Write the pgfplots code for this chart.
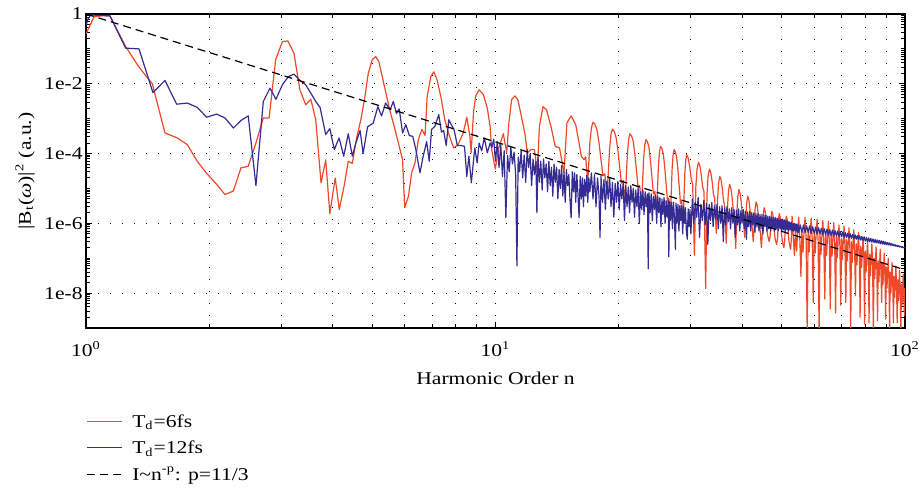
\documentclass[border=0pt]{standalone}
\usepackage{fontspec}
\setmainfont{Liberation Serif}[FakeStretch=1.2]
\usepackage{pgfplots}
\pgfplotsset{compat=1.18}
\definecolor{tdsix}{RGB}{239,72,42}
\definecolor{tdtwelve}{RGB}{52,44,146}
\newcommand{\lbl}{\fontsize{9}{11}\selectfont}
\begin{document}
\begin{tikzpicture}
\useasboundingbox (-43pt,-81pt) rectangle (417pt,164pt);
\begin{axis}[
  at={(0,0)}, anchor=south west,
  scale only axis, width=409.5pt, height=157pt,
  xmode=log, ymode=log,
  xmin=1, xmax=100, ymin=1e-9, ymax=1,
  xtick={1,10,100},
  xticklabels={10\textsuperscript{0},10\textsuperscript{1},10\textsuperscript{2}},
  minor xtick={2,3,4,5,6,7,8,9,20,30,40,50,60,70,80,90},
  ytick={1e-8,1e-6,1e-4,1e-2,1},
  yticklabels={1e-8,1e-6,1e-4,1e-2,1},
  minor ytick={1e-9,2e-9,3e-9,4e-9,5e-9,6e-9,7e-9,8e-9,9e-9,
    2e-8,3e-8,4e-8,5e-8,6e-8,7e-8,8e-8,9e-8,
    1e-7,2e-7,3e-7,4e-7,5e-7,6e-7,7e-7,8e-7,9e-7,
    2e-6,3e-6,4e-6,5e-6,6e-6,7e-6,8e-6,9e-6,
    1e-5,2e-5,3e-5,4e-5,5e-5,6e-5,7e-5,8e-5,9e-5,
    2e-4,3e-4,4e-4,5e-4,6e-4,7e-4,8e-4,9e-4,
    1e-3,2e-3,3e-3,4e-3,5e-3,6e-3,7e-3,8e-3,9e-3,
    2e-2,3e-2,4e-2,5e-2,6e-2,7e-2,8e-2,9e-2,
    1e-1,2e-1,3e-1,4e-1,5e-1,6e-1,7e-1,8e-1,9e-1},
  tick align=inside,
  major tick length=3pt, minor tick length=2pt,
  every tick/.style={black, line width=0.5pt},
  xmajorgrids, xminorgrids, ymajorgrids,
  grid style={black, line width=0.5pt, dash pattern=on 0.7pt off 5.3pt},
  axis line style={line width=0.6pt},
  tick label style={font=\lbl},
  xticklabel style={anchor=base, yshift=-14.5pt},
  yticklabel style={inner xsep=1.5pt},
  xlabel={Harmonic Order n},
  ylabel={|B\textsubscript{t}(\textit{ω})|\textsuperscript{2} (a.u.)},
  every axis x label/.style={at={(axis description cs:0.5,-0.1815)}, anchor=base, font=\lbl},
  every axis y label/.style={at={(axis description cs:-0.0672,0.5)}, rotate=90, anchor=base, font=\lbl},
  legend cell align=left,
  legend style={at={(axis description cs:0,0)}, anchor=north west, yshift=-40pt,
    draw=none, fill=none, inner sep=0pt, row sep=0pt,
    cells={anchor=base west},
    nodes={inner sep=0pt, text height=9.5pt, text depth=3.75pt, font=\lbl}},
  legend image code/.code={\draw[#1] (0pt,3pt) -- (17.35pt,3pt); \path (22.35pt,0pt);},
  every axis plot/.append style={line join=round},
]
% T_d = 6 fs
\addplot[tdsix, line width=0.6pt] coordinates {
(1.0,0.27)(1.046,0.83)(1.1,0.9)(1.144,0.88)(1.25,0.117)(1.347,0.03)(1.452,0.01)(1.559,3.9e-4)
(1.671,2.8e-4)(1.768,1.8e-4)(1.87,6e-5)(1.971,2.7e-5)(2.07,1.45e-5)(2.185,6.7e-6)(2.29,8.4e-6)
(2.39,3.9e-5)(2.49,4.3e-5)(2.6,2e-4)(2.71,1.05e-3)(2.8,1.05e-3)(2.905,0.049)(3.016,0.16)(3.11,0.17)
(3.22,0.075)(3.33,6.7e-3)(3.44,2.5e-3)(3.54,3.6e-3)(3.64,9.3e-4)(3.75,1.45e-5)(3.85,6.5e-5)
(3.94,1.9e-6)(4.06,2e-5)(4.155,2.5e-6)(4.27,1.2e-5)(4.37,6e-5)(4.47,5.2e-5)(4.58,2.8e-4)
(4.69,9.3e-4)(4.8,4.3e-3)(4.89,0.02)(5.0,0.049)(5.1,0.06)(5.19,0.043)(5.29,0.016)(5.4,5.4e-3)
(5.53,1.6e-3)(5.68,5e-4)(5.82,1.6e-4)(5.93,6.7e-5)(6.0,2.8e-6)(6.13,6e-6)(6.24,2.8e-5)(6.36,5.4e-5)
(6.48,2.5e-4)(6.61,4.9e-4)(6.73,3.3e-4)(6.81,4.3e-3)(6.95,0.016)(7.07,0.022)(7.2,0.013)(7.38,3.5e-3)
(7.52,9.3e-4)(7.7,3.5e-4)(7.9,1.45e-4)(8.1,1.8e-4)(8.34,3.9e-4)(8.51,1.1e-3)(8.66,3.1e-4)
(8.72,1.05e-4)(8.84,1.6e-3)(8.95,4.5e-3)(9.12,6.7e-3)(9.34,4.9e-3)(9.55,2e-3)(9.7,6e-4)(9.79,1.3e-4)
(9.99,3.6e-5)(10.18,1.45e-4)(10.45,3.7e-4)(10.65,1.05e-4)(10.78,7.5e-4)(10.95,3.5e-3)(11.15,4.5e-3)
(11.34,3.5e-3)(11.56,1.2e-3)(11.79,3.9e-4)(11.96,1.05e-4)(12.22,1.3e-4)(12.45,1.3e-4)(12.65,2.8e-5)
(12.8,6e-4)(13.06,2.2e-3)(13.32,1.8e-3)(13.66,6e-4)(13.99,1.6e-4)(14.33,1.45e-4)(14.7,2.8e-5)
(14.94,7.5e-4)(15.3,1.2e-3)(15.7,6.7e-4)(16.0,2e-4)(16.2,8.4e-5)(16.45,6.7e-5)(16.6,8e-5)
(16.8,1.5e-5)(17.0,2e-4)(17.15,5.5e-4)
(17.3,7.9e-4)(17.5,6.9e-4)(17.7,4.6e-4)(17.9,2e-4)(18.1,6.6e-5)(18.3,2.3e-5)(18.5,2.6e-5)(18.7,6.6e-6)(18.85,2.5e-5)(19.0,1.4e-4)(19.15,3.6e-4)
(19.3,5e-4)(19.5,4.3e-4)(19.7,2.9e-4)(19.9,1.25e-4)(20.1,4.2e-5)(20.3,1.4e-5)(20.5,1.7e-5)(20.7,4.2e-6)(20.85,1.85e-5)(21.0,1.05e-4)(21.15,2.6e-4)
(21.3,3.7e-4)(21.5,3.2e-4)(21.7,2.2e-4)(21.9,9.3e-5)(22.1,3.1e-5)(22.3,1.05e-5)(22.5,1.2e-5)(22.7,3.1e-6)(22.85,1.25e-5)(23.0,7.1e-5)(23.15,1.8e-4)
(23.3,2.5e-4)(23.5,2.2e-4)(23.7,1.5e-4)(23.9,6.3e-5)(24.1,2.1e-5)(24.3,7e-6)(24.5,8.3e-6)(24.7,2.1e-6)(24.85,8e-6)(25.0,4.6e-5)(25.15,1.15e-4)
(25.3,1.6e-4)(25.5,1.4e-4)(25.7,9.4e-5)(25.9,4e-5)(26.1,1.3e-5)(26.3,4.6e-6)(26.5,5.3e-6)(26.7,1.3e-6)(26.85,6.5e-6)(27.0,3.7e-5)(27.15,9.3e-5)
(27.3,1.3e-4)(27.5,1.1e-4)(27.7,7.6e-5)(27.9,3.3e-5)(28.1,1.1e-5)(28.3,3.7e-6)(28.5,4.3e-6)(28.7,1.1e-6)(28.85,4.7e-6)(29.0,2.7e-5)(29.15,6.6e-5)
(29.3,9.3e-5)(29.55,7.4e-5)(29.8,4.2e-5)(30.05,1.9e-5)(30.3,1.3e-5)(30.6,1.2e-7)(30.85,1.1e-5)(31.05,3.5e-5)
(31.3,5.6e-5)(31.55,4.5e-5)(31.8,2.5e-5)(32.05,1.1e-5)(32.3,8e-6)(32.6,1.35e-8)(32.85,7.2e-6)(33.05,2.25e-5)
(33.3,3.6e-5)(33.55,2.9e-5)(33.8,1.6e-5)(34.05,7.2e-6)(34.3,5.1e-6)(34.6,5.2e-7)(34.85,4.4e-6)(35.05,1.4e-5)
(35.3,2.2e-5)(35.55,1.8e-5)(35.8,1e-5)(36.05,4.4e-6)(36.3,3.1e-6)(36.6,2.7e-7)(36.85,2.6e-6)(37.05,8.1e-6)
(37.3,1.3e-5)(37.55,1.04e-5)(37.8,5.9e-6)(38.05,2.6e-6)(38.3,1.9e-6)(38.6,1.9e-7)(38.85,1.9e-6)(39.05,5.8e-6)
(39.3,9.3e-6)(39.55,7.4e-6)(39.8,4.2e-6)(40.05,1.9e-6)(40.3,1.3e-6)(40.6,4e-7)(40.85,1.2e-6)(41.05,3.75e-6)
(41.3,6e-6)(41.55,4.8e-6)(41.8,2.7e-6)(42.05,1.2e-6)(42.3,8.6e-7)(42.6,3e-7)(42.85,8.2e-7)(43.05,2.6e-6)
(43.3,4.1e-6)(43.55,3.3e-6)(43.8,1.9e-6)(44.05,8.2e-7)(44.3,5.9e-7)(44.6,2e-7)(44.85,5.6e-7)(45.05,1.75e-6)
(45.3,2.8e-6)(45.55,2.2e-6)(45.8,1.3e-6)(46.05,5.6e-7)(46.3,4e-7)(46.6,3e-7)(46.85,4.4e-7)(47.05,1.4e-6)
(47.3,2.2e-6)(47.55,1.8e-6)(47.8,1e-6)(48.05,4.4e-7)(48.3,3.1e-7)(48.6,2.5e-7)(48.85,3.8e-7)(49.05,1.2e-6)
(49.3,1.9e-6)(49.55,1.5e-6)(49.8,8.6e-7)(50.05,3.8e-7)(50.3,2.7e-7)(50.6,2e-7)(50.85,3.2e-7)(51.05,1e-6)
(51.3,1.6e-6)(51.55,1.3e-6)(51.8,7.3e-7)(52.05,3.2e-7)(52.3,2.3e-7)(52.55,1.8e-7)(52.75,3.2e-7)(52.9,1e-6)
(53,1.6e-6)(53.35,4e-7)(53.7,1.2e-7)(54,6.4e-7)(54.35,1.6e-7)(54.65,5e-7)
(55,1.5e-6)(55.35,3.75e-7)(55.7,3e-8)(56,6e-7)(56.35,1.5e-7)(56.65,5e-7)
(57,1.5e-6)(57.35,3.75e-7)(57.7,8e-10)(58,6e-7)(58.35,1.5e-7)(58.65,4.7e-7)
(59,1.4e-6)(59.35,3.5e-7)(59.7,5.4e-9)(60,5.6e-7)(60.35,1.4e-7)(60.65,4.3e-7)
(61,1.3e-6)(61.35,3.25e-7)(61.7,6e-10)(62,5.2e-7)(62.35,1.3e-7)(62.65,4e-7)
(63,1.2e-6)(63.35,3e-7)(63.7,6.7e-9)(64,4.8e-7)(64.35,1.2e-7)(64.65,3.8e-7)
(65,1.15e-6)(65.35,2.9e-7)(65.7,3.5e-9)(66,4.6e-7)(66.35,1.15e-7)(66.65,3.5e-7)
(67,1.05e-6)(67.35,2.6e-7)(67.7,2.7e-9)(68,4.2e-7)(68.35,1.05e-7)(68.65,3e-7)
(69,9e-7)(69.35,2.25e-7)(69.7,4.5e-9)(70,3.6e-7)(70.35,9e-8)(70.65,2.8e-7)
(71,8.4e-7)(71.35,2.1e-7)(71.7,5.4e-9)(72,3.4e-7)(72.35,8.4e-8)(72.65,2.5e-7)
(73,7.5e-7)(73.35,1.9e-7)(73.7,7e-10)(74,3e-7)(74.35,7.5e-8)(74.65,2.2e-7)
(75,6.5e-7)(75.35,1.6e-7)(75.7,8.4e-9)(76,2.6e-7)(76.35,6.5e-8)(76.65,1.8e-7)
(77,5.4e-7)(77.35,1.35e-7)(77.7,2e-9)(78,2.2e-7)(78.35,5.4e-8)(78.65,1.3e-7)
(79,4e-7)(79.35,1e-7)(79.7,1.3e-9)(80,1.6e-7)(80.35,4e-8)(80.65,1.1e-7)
(81,3.2e-7)(81.35,8e-8)(81.7,1.4e-9)(82,1.3e-7)(82.35,3.2e-8)(82.65,8.7e-8)
(83,2.6e-7)(83.35,6.5e-8)(83.7,6e-10)(84,1e-7)(84.35,2.6e-8)(84.65,7e-8)
(85,2.1e-7)(85.35,5.2e-8)(85.7,1.6e-9)(86,8.4e-8)(86.35,2.1e-8)(86.65,6e-8)
(87,1.8e-7)(87.35,4.5e-8)(87.7,5.4e-9)(88,7.2e-8)(88.35,1.8e-8)(88.65,4.7e-8)
(89,1.4e-7)(89.35,3.5e-8)(89.7,1.8e-9)(90,5.6e-8)(90.35,1.4e-8)(90.65,3.3e-8)
(91,1e-7)(91.35,2.5e-8)(91.7,8e-10)(92,4e-8)(92.35,1e-8)(92.65,2.5e-8)
(93,7.5e-8)(93.35,1.9e-8)(93.7,1.4e-9)(94,3e-8)(94.35,7.5e-9)(94.65,2e-8)
(95,6e-8)(95.35,1.5e-8)(95.7,1.4e-9)(96,2.4e-8)(96.35,6e-9)(96.65,1.5e-8)
(97,4.5e-8)(97.35,1.1e-8)(97.7,6e-10)(98,1.8e-8)(98.35,4.5e-9)(98.65,1.2e-8)
(99,3.5e-8)(99.35,8.8e-9)(99.7,2.3e-9)(100,1.4e-8)
};
\addlegendentry{T\textsubscript{d}=6fs}
% T_d = 12 fs
\addplot[tdtwelve, line width=0.6pt] coordinates {
(1,0.45)(1.01,0.7)(1.027,0.94)(1.1,0.9)(1.144,0.89)(1.25,0.105)(1.347,0.1)(1.457,5.6e-3)
(1.559,0.0125)(1.665,2.6e-3)(1.768,2.8e-3)(1.87,2.1e-3)(1.971,1.1e-3)(2.085,1.35e-3)(2.185,1.05e-3)
(2.29,5.4e-4)(2.391,8.9e-4)(2.49,1.2e-3)(2.6,1.2e-5)(2.71,3.1e-3)(2.814,7.5e-3)(2.91,3.6e-3)
(3.016,9.3e-3)(3.12,0.016)(3.22,0.019)(3.33,0.0125)(3.44,9.3e-3)(3.54,5.4e-3)(3.64,3.1e-3)
(3.73,2.1e-3)(3.85,3.5e-4)(3.94,5.2e-4)(4.04,1.3e-4)(4.15,2.8e-4)(4.26,8.4e-5)(4.37,3.7e-4)
(4.47,8.4e-5)(4.56,2e-4)(4.67,4.6e-4)(4.75,1e-4)(4.87,5.8e-4)(5.03,7.5e-4)(5.16,2.2e-3)
(5.27,1.2e-3)(5.39,2.8e-3)(5.53,1.8e-3)(5.63,3.1e-3)(5.73,1.4e-3)(5.82,1.9e-3)(5.93,3.9e-4)
(6.04,6.7e-4)(6.16,3.3e-4)(6.28,3.1e-4)(6.39,1.3e-4)(6.54,2.8e-5)(6.66,8.4e-5)(6.79,2.2e-4)
(6.89,6e-5)(6.98,4.9e-4)(7.11,6e-4)(7.27,1.3e-3)(7.38,4.1e-4)(7.47,4.6e-4)(7.58,1.7e-4)
(7.69,9.3e-4)(7.8,6.7e-4)(7.92,4.9e-4)(8.07,1.7e-4)(8.25,1.7e-4)(8.4,1.6e-4)(8.51,2.2e-5)
(8.61,8.4e-5)(8.73,1.45e-5)(8.9,1.45e-4)(9.02,5.4e-5)(9.12,2e-4)(9.25,1.2e-4)(9.39,2.8e-4)
(9.55,1.05e-4)(9.7,2e-4)
(9.8,1.5e-4)(9.9,2.6e-4)(10.0,6e-5)(10.1,2.2e-4)(10.2,4e-5)(10.3,1.8e-4)(10.4,2.2e-5)(10.5,1.2e-4)
(10.6,1.45e-6)(10.7,9e-5)(10.8,3e-5)(10.9,1.5e-4)(11.0,5e-5)(11.1,1.1e-4)(11.2,2.5e-5)(11.28,6e-8)
(11.36,8e-5)(11.45,3e-5)(11.55,1.2e-4)(11.65,2e-5)(11.75,9e-5)(11.85,1.5e-5)(11.95,1.3e-4)
(12.05,4e-5)(12.15,1e-4)(12.25,1.2e-5)(12.35,7e-5)(12.45,2.5e-5)(12.55,6e-5)(12.62,2e-6)
(12.7,8e-5)(12.8,1.5e-5)(12.9,6e-5)(13.0,9e-6)(13.1,7e-5)(13.2,2e-5)(13.3,5e-5)(13.4,8e-6)
(13.5,6e-5)(13.6,1.2e-5)(13.7,4e-5)(13.8,6e-6)(13.9,5e-5)(14.0,1.5e-5)(14.1,4e-5)(14.2,5e-6)
(14.3,3.5e-5)(14.4,1e-5)(14.5,4.5e-5)(14.6,6e-6)(14.7,3e-5)(14.8,4e-6)(14.9,3.5e-5)(15.0,1.2e-5)
(15.1,2.5e-5)(15.2,5e-6)(15.3,1.45e-6)(15.4,3e-5)(15.5,8e-6)(15.6,2.8e-5)(15.7,4e-6)(15.8,2.5e-5)
(15.9,7e-6)(16.0,1.45e-6)(16.1,2.2e-5)(16.2,5e-6)(16.3,2e-5)(16.4,3e-6)(16.5,1.8e-5)(16.6,6e-6)
(16.7,2.4e-5)(16.8,4e-6)(16.9,2e-5)(17.0,8e-6)
(17.15,2.8e-5)(17.3,5e-6)(17.45,2.5e-5)(17.6,3e-6)(17.75,2e-5)(17.9,6e-6)(18.0,4e-7)(18.1,2.2e-5)
(18.25,4e-6)(18.4,1.8e-5)(18.55,2.5e-6)(18.7,1.6e-5)(18.85,5e-6)(19.0,2e-5)(19.15,3e-6)(19.3,1.5e-5)
(19.45,1.5e-6)(19.6,1.4e-5)(19.75,4e-6)(19.9,1.6e-5)(20.05,2.5e-6)(20.2,1.3e-5)(20.35,5e-6)
(20.5,1.4e-5)(20.65,1.2e-6)(20.8,1.2e-5)(20.95,3e-6)(21.1,1.1e-5)(21.25,2e-6)(21.4,1.2e-5)
(21.55,4e-6)(21.7,1e-5)(21.85,1.5e-6)(22.0,9e-6)(22.15,3e-6)(22.3,1e-5)(22.45,1e-6)(22.6,8e-6)
(22.75,2.5e-6)(22.9,9e-6)(23.05,1.8e-6)(23.2,8e-6)(23.35,3e-6)(23.5,7e-6)(23.6,5e-8)(23.7,7.5e-6)
(23.85,2e-6)(24.0,7e-6)(24.15,1.2e-6)(24.3,6e-6)(24.45,2.5e-6)(24.6,6.5e-6)(24.75,1e-6)(24.9,6e-6)
(25.05,2e-6)(25.2,5.5e-6)(25.35,8e-7)(25.5,5e-6)(25.65,1.8e-6)(25.8,5.5e-6)(25.95,1e-6)(26.1,4.5e-6)
(26.25,1.5e-6)(26.4,4.5e-6)(26.5,1.1e-7)(26.6,4.2e-6)(26.75,1.2e-6)(26.9,4e-6)(27.05,7e-7)(27.2,4e-6)
(27.35,1.5e-6)(27.5,1.8e-7)(27.6,3.8e-6)(27.75,1e-6)(27.9,3.5e-6)(28.05,6e-7)(28.2,3.3e-6)
(28.35,1.2e-6)(28.5,3.2e-6)(28.65,5e-7)(28.8,3e-6)(28.95,1e-6)(29.1,2.8e-6)(29.25,6e-7)(29.4,3.5e-7)
(29.55,2.6e-6)(29.7,8e-7)(29.85,2.5e-6)(30.0,5e-7)
(30.25,5e-6)(30.5,1e-6)(30.75,4e-6)(31.0,1.5e-6)(31.25,5.5e-6)(31.5,4e-7)(31.75,3.5e-6)(32.0,1.2e-6)
(32.25,4.5e-6)(32.5,9e-7)(32.75,3.8e-6)(33.0,2.5e-7)(33.25,3.5e-6)(33.5,1.2e-6)(33.75,4e-6)(34.0,8e-7)
(34.25,3.2e-6)(34.5,1.3e-6)(34.75,3.5e-6)(35.0,7e-7)(35.25,3e-6)(35.5,1e-6)(35.75,3.2e-6)(36.0,3e-7)
(36.25,2.8e-6)(36.5,9e-7)(36.75,3e-6)(37.0,1.1e-6)(37.25,2.6e-6)(37.5,7e-7)(37.75,2.8e-6)(38.0,1e-6)
(38.25,2.5e-6)(38.5,4e-7)(38.75,2.4e-6)(39.0,9e-7)(39.25,2.6e-6)(39.5,6e-7)(39.75,2.3e-6)(40.0,1e-6)
(40.25,2.5e-6)(40.5,7e-7)(40.75,2.2e-6)(41.0,3.5e-7)(41.25,2.1e-6)(41.5,8e-7)(41.75,2.2e-6)(42.0,6e-7)
(42.25,2e-6)(42.5,9e-7)(42.75,2e-6)(43.0,5.5e-7)(43.25,1.9e-6)(43.5,8e-7)(43.75,1.9e-6)(44.0,6e-7)
(44.25,1.8e-6)(44.5,7e-7)(44.75,1.8e-6)(45.0,5e-7)(45.25,1.7e-6)(45.5,8e-7)(45.75,1.7e-6)(46.0,6e-7)
(46.25,1.6e-6)(46.5,7e-7)(46.75,1.6e-6)(47.0,6e-7)(47.25,1.5e-6)(47.5,7.5e-7)(47.75,1.5e-6)(48.0,6e-7)
(48.25,1.45e-6)(48.5,7e-7)(48.75,1.4e-6)(49.0,6e-7)(49.25,1.35e-6)(49.5,7e-7)(49.75,1.3e-6)(50.0,6e-7)
(50.25,1.3e-6)(50.5,6.5e-7)(50.75,1.25e-6)(51.0,6e-7)(51.25,1.2e-6)(51.5,6.5e-7)(51.75,1.15e-6)
(52.0,6e-7)(52.25,1.1e-6)(52.5,6.5e-7)(52.75,1.05e-6)(53.0,6e-7)(53.25,1e-6)(53.5,6e-7)(53.75,1e-6)
(54.0,6e-7)(54.25,9.5e-7)(54.5,5.5e-7)(54.75,9.5e-7)(55.0,5.5e-7)
(55.5,9e-7)(56,5.5e-7)(56.5,9e-7)(57,5.5e-7)(57.5,8.5e-7)(58,5.5e-7)(58.5,8.5e-7)(59,5.2e-7)
(59.5,8e-7)(60,5.2e-7)(60.5,7.8e-7)(61,5e-7)(61.5,7.5e-7)(62,5e-7)(62.5,7.2e-7)(63,4.8e-7)
(63.5,7e-7)(64,4.7e-7)(64.5,6.8e-7)(65,4.6e-7)(65.5,6.6e-7)(66,4.5e-7)(66.5,6.4e-7)(67,4.4e-7)
(67.5,6.2e-7)(68,4.3e-7)(68.5,6e-7)(69,4.2e-7)(69.5,5.8e-7)(70,4.1e-7)(70.5,5.6e-7)(71,4e-7)
(71.5,5.4e-7)(72,3.9e-7)(72.5,5.2e-7)(73,3.8e-7)(73.5,5e-7)(74,3.7e-7)(74.5,4.8e-7)(75,3.6e-7)
(75.5,4.7e-7)(76,3.5e-7)(76.5,4.5e-7)(77,3.4e-7)(77.5,4.4e-7)(78,3.3e-7)(78.5,4.2e-7)(79,3.2e-7)
(79.5,4.1e-7)(80,3.1e-7)(80.5,3.9e-7)(81,3e-7)(81.5,3.8e-7)(82,2.95e-7)(82.5,3.7e-7)(83,2.9e-7)
(83.5,3.55e-7)(84,2.8e-7)(84.5,3.45e-7)(85,2.75e-7)(85.5,3.35e-7)(86,2.7e-7)(86.5,3.25e-7)
(87,2.6e-7)(87.5,3.15e-7)(88,2.55e-7)(88.5,3.05e-7)(89,2.5e-7)(89.5,2.95e-7)(90,2.45e-7)
(90.5,2.85e-7)(91,2.4e-7)(91.5,2.75e-7)(92,2.35e-7)(92.5,2.65e-7)(93,2.3e-7)(93.5,2.55e-7)
(94,2.25e-7)(94.5,2.45e-7)(95,2.2e-7)(95.5,2.35e-7)(96,2.15e-7)(96.5,2.3e-7)(97,2.1e-7)
(97.5,2.2e-7)(98,2.05e-7)(98.5,2.15e-7)(99,2e-7)(99.5,2.05e-7)(100,1.95e-7)
};
\addlegendentry{T\textsubscript{d}=12fs}
% power law I ~ n^{-11/3}
\addplot[black, line width=0.6pt, dash pattern=on 4pt off 2.5pt] coordinates {(1,1) (100,4.64e-8)};
\addlegendentry{I\textasciitilde n\textsuperscript{-p}: p=11/3}
\end{axis}
\end{tikzpicture}
\end{document}
